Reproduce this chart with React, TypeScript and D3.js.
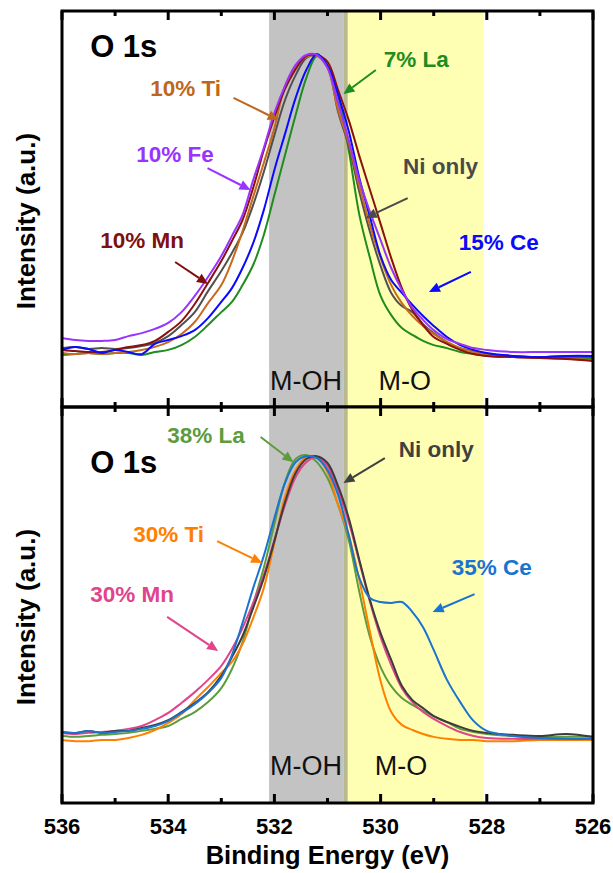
import React from "react";
import * as d3 from "d3";

// ---------- data (binding energy in eV, intensity in a.u., normalised) ----------
const energies = [
  536, 535.75, 535.5, 535.25, 535, 534.75, 534.5, 534.25, 534, 533.75, 533.5, 533.25, 533,
  532.8, 532.6, 532.4, 532.2, 532, 531.8, 531.6, 531.4, 531.2, 531, 530.8, 530.6, 530.4, 530.2,
  530, 529.8, 529.6, 529.4, 529.2, 529, 528.75, 528.5, 528.25, 528, 527.5, 527, 526.5, 526,
];

// top panel
const topFe10 = [6.7, 6.0, 5.7, 5.7, 6.0, 7.3, 8.3, 9.7, 11.7, 15.3, 20.7, 27.0, 34.0, 40.7, 47.7, 59.3, 70.0, 81.7, 90.7, 97.7, 101.0, 101.0, 96.7, 85.0, 72.7, 59.3, 48.7, 39.3, 30.0, 22.7, 16.7, 12.7, 9.3, 6.3, 4.7, 3.3, 2.7, 2.0, 2.0, 2.0, 2.0];
const topMn10 = [2.7, 2.3, 2.0, 2.0, 2.7, 3.7, 4.3, 5.7, 8.7, 12.3, 18.0, 25.0, 32.3, 39.0, 46.0, 56.7, 69.3, 80.3, 89.7, 96.3, 100.7, 101.0, 98.7, 89.3, 79.3, 67.3, 56.0, 44.7, 33.3, 23.3, 16.0, 11.0, 7.0, 4.7, 2.7, 1.3, 0.7, 0.3, 0, -0.3, -1.0];
const topNi = [3.3, 3.7, 3.0, 3.3, 3.0, 3.3, 4.0, 5.0, 7.3, 11.0, 15.3, 22.3, 29.0, 35.0, 41.7, 51.0, 62.0, 74.3, 86.0, 94.3, 100.0, 101.0, 97.3, 82.0, 70.7, 55.3, 42.0, 30.7, 21.7, 17.3, 15.3, 11.3, 8.3, 5.3, 3.3, 2.3, 1.3, 0.7, 0.3, 0.7, 0.3];
const topTi10 = [1.7, 1.3, 1.7, 1.3, 1.7, 2.0, 2.7, 3.7, 5.3, 8.0, 12.0, 18.3, 24.3, 32.3, 42.3, 53.7, 65.0, 76.7, 90.7, 97.3, 100.3, 100.7, 96.7, 82.7, 71.7, 57.3, 44.3, 33.3, 24.3, 18.3, 14.0, 10.7, 8.0, 5.3, 3.3, 2.0, 1.0, 0.3, 0, -0.3, -0.7];
const topCe15 = [2.7, 3.7, 3.0, 1.7, 2.7, 2.0, 1.3, 4.7, 6.0, 7.3, 9.3, 13.3, 18.7, 23.3, 30.0, 38.3, 49.3, 62.7, 74.7, 86.7, 96.0, 101.3, 97.3, 87.7, 75.7, 60.0, 47.0, 34.0, 26.0, 21.7, 17.7, 14.0, 10.7, 7.0, 4.3, 2.7, 1.7, 0.7, 0.3, 0.7, 0.7];
const topLa7 = [1.0, 1.3, 1.7, 1.3, 1.7, 1.7, 1.0, 2.0, 2.7, 4.3, 7.0, 11.0, 15.3, 18.7, 24.3, 31.0, 41.0, 54.3, 67.7, 81.0, 93.3, 100.7, 97.3, 87.7, 69.3, 47.7, 33.3, 20.7, 14.3, 10.0, 7.7, 5.7, 4.3, 3.3, 2.0, 1.3, 0.7, 0.3, 0.3, 0, 0];

// bottom panel
const botLa38 = [1.4, 1.1, 1.4, 1.8, 2.1, 2.5, 3.2, 3.9, 4.9, 7.4, 9.8, 13.3, 18.2, 24.9, 34.4, 47.7, 60.4, 75.8, 90.5, 98.6, 100.0, 97.5, 91.9, 82.5, 70.2, 51.9, 36.1, 25.6, 18.9, 14.7, 12.3, 10.2, 8.4, 6.3, 3.9, 2.8, 2.1, 1.4, 1.1, 1.1, 1.1];
const botTi30 = [0, -0.4, -0.4, 0, 0, 0.7, 1.8, 3.5, 6.0, 9.1, 14.0, 18.6, 23.5, 27.4, 33.7, 42.8, 53.3, 69.1, 85.3, 94.7, 99.3, 99.3, 94.0, 82.5, 71.9, 56.1, 37.9, 20.7, 9.8, 5.3, 3.5, 2.1, 1.1, 0.4, 0, 0, -0.4, -0.4, 0, 0, 0];
const botMn30 = [2.5, 2.1, 2.5, 2.8, 3.2, 3.9, 4.9, 7.0, 9.5, 13.0, 16.8, 21.1, 26.0, 31.9, 39.3, 48.1, 57.9, 70.2, 82.5, 92.3, 97.5, 99.3, 96.1, 87.7, 76.5, 62.5, 48.4, 36.1, 26.3, 18.2, 13.3, 9.8, 7.4, 4.9, 2.8, 1.4, 0.7, 0.4, 0.4, 0.4, 0.4];
const botNi = [2.8, 2.5, 3.2, 2.5, 3.2, 3.2, 4.2, 5.3, 7.0, 9.8, 13.0, 16.8, 22.5, 29.1, 36.5, 46.3, 56.8, 69.8, 83.5, 93.7, 98.6, 99.6, 97.2, 89.1, 77.9, 63.2, 49.1, 37.5, 28.1, 19.0, 14.0, 11.2, 8.4, 6.3, 4.6, 3.2, 2.5, 1.8, 1.4, 2.1, 1.1];
const botCe35 = [2.8, 2.5, 3.2, 2.5, 2.8, 3.2, 3.9, 4.9, 6.7, 9.5, 12.6, 16.5, 21.8, 29.8, 41.1, 53.3, 64.6, 77.9, 90.2, 97.5, 99.6, 98.9, 94.7, 86.0, 71.9, 56.8, 49.8, 48.4, 48.1, 48.4, 44.9, 39.6, 31.6, 21.1, 13.3, 6.7, 3.2, 1.4, 0.7, 0.4, 0.4];

// x axis
const xTicksMajor = [536, 534, 532, 530, 528, 526];
const xTicksMinor = [535, 533, 531, 529, 527];

// shaded regions (eV)
const bandMOH = [532.1, 530.62];
const bandMO = [530.7, 528.06];

// series (drawing order)
const topSeries = [
  { name: "7% La", color: "#1e8c1e", values: topLa7 },
  { name: "Ni only", color: "#505050", values: topNi },
  { name: "10% Ti", color: "#c8691c", values: topTi10 },
  { name: "10% Mn", color: "#8b1010", values: topMn10 },
  { name: "15% Ce", color: "#0a0aff", values: topCe15 },
  { name: "10% Fe", color: "#9933ff", values: topFe10 },
];
const botSeries = [
  { name: "38% La", color: "#5c9c3c", values: botLa38 },
  { name: "30% Ti", color: "#ff8000", values: botTi30 },
  { name: "30% Mn", color: "#e0448a", values: botMn30 },
  { name: "Ni only", color: "#3c3c3c", values: botNi },
  { name: "35% Ce", color: "#1a73d0", values: botCe35 },
];

// annotations: label at (lx, ly), arrow from (ax0, ay0) to (ax1, ay1) — energy/intensity coords
const topNotes = [
  { text: "10% Ti", color: "#c0661c", lx: 534.34, ly: 87.3, ax0: 532.77, ay0: 86.7, ax1: 531.92, ay1: 79.3 },
  { text: "10% Fe", color: "#9933ff", lx: 534.6, ly: 65.3, ax0: 533.26, ay0: 63.3, ax1: 532.45, ay1: 56.0 },
  { text: "10% Mn", color: "#7f1010", lx: 535.28, ly: 36.7, ax0: 533.87, ay0: 32.0, ax1: 533.25, ay1: 24.7 },
  { text: "7% La", color: "#1e8c1e", lx: 529.94, ly: 97.0, ax0: 530.09, ay0: 96.0, ax1: 530.7, ay1: 88.0 },
  { text: "Ni only", color: "#4a4a4a", lx: 529.58, ly: 61.3, ax0: 529.49, ay0: 53.3, ax1: 530.28, ay1: 46.7 },
  { text: "15% Ce", color: "#0a0aff", lx: 528.53, ly: 36.0, ax0: 528.3, ay0: 28.7, ax1: 529.09, ay1: 22.0 },
];
const botNotes = [
  { text: "38% La", color: "#5c9c3c", lx: 534.02, ly: 104.2, ax0: 532.26, ay0: 106.3, ax1: 531.64, ay1: 97.5 },
  { text: "30% Ti", color: "#ff8000", lx: 534.66, ly: 69.5, ax0: 533.08, ay0: 69.8, ax1: 532.23, ay1: 62.1 },
  { text: "30% Mn", color: "#e0448a", lx: 535.47, ly: 48.4, ax0: 534.02, ay0: 43.2, ax1: 533.06, ay1: 31.2 },
  { text: "Ni only", color: "#404040", lx: 529.66, ly: 99.3, ax0: 529.92, ay0: 98.9, ax1: 530.7, ay1: 90.2 },
  { text: "35% Ce", color: "#1a73d0", lx: 528.66, ly: 57.9, ax0: 528.23, ay0: 51.2, ax1: 529.02, ay1: 44.9 },
];

const FONT = "'Liberation Sans', Arial, Helvetica, sans-serif";
const W = 613;
const H = 873;
const LEFT = 62;
const RIGHT = 593;

const x = d3.scaleLinear().domain([536, 526]).range([LEFT, RIGHT]);

type Note = { text: string; color: string; lx: number; ly: number; ax0: number; ay0: number; ax1: number; ay1: number };
type Series = { name: string; color: string; values: number[] };

function Arrow({ x0, y0, x1, y1, color }: { x0: number; y0: number; x1: number; y1: number; color: string }) {
  const dx = x1 - x0;
  const dy = y1 - y0;
  const len = Math.hypot(dx, dy);
  const ux = dx / len;
  const uy = dy / len;
  const hl = 11;
  const hw = 5;
  const bx = x1 - ux * hl;
  const by = y1 - uy * hl;
  const head = `M${x1},${y1}L${bx - uy * hw},${by + ux * hw}L${bx + uy * hw},${by - ux * hw}Z`;
  return (
    <g>
      <line x1={x0} y1={y0} x2={bx} y2={by} stroke={color} strokeWidth={2} />
      <path d={head} fill={color} />
    </g>
  );
}

function Panel({ id, top, bottom, y, series, notes, title }: {
  id: string; top: number; bottom: number; y: d3.ScaleLinear<number, number>; series: Series[]; notes: Note[]; title: { e: number; v: number };
}) {
  const line = d3
    .line<number>()
    .x((_, i) => x(energies[i]))
    .y((d) => y(d))
    .curve(d3.curveCatmullRom.alpha(0.5));
  return (
    <g>
      <defs>
        <clipPath id={id}>
          <rect x={LEFT} y={top} width={RIGHT - LEFT} height={bottom - top} />
        </clipPath>
      </defs>
      {/* bands */}
      <rect x={x(bandMOH[0])} y={top} width={x(bandMOH[1]) - x(bandMOH[0])} height={bottom - top} fill="#c3c3c3" />
      <rect x={x(bandMO[0])} y={top} width={x(bandMO[1]) - x(bandMO[0])} height={bottom - top} fill="#ffffb3" />
      <rect x={x(bandMO[0])} y={top} width={x(bandMOH[1]) - x(bandMO[0])} height={bottom - top} fill="#b9b98f" />
      <g clipPath={`url(#${id})`}>
        {series.map((s) => (
          <path key={s.name} d={line(s.values) || ""} fill="none" stroke={s.color} strokeWidth={2} strokeLinejoin="round" />
        ))}
      </g>
      {/* frame */}
      <rect x={LEFT} y={top} width={RIGHT - LEFT} height={bottom - top} fill="none" stroke="#000" strokeWidth={3} />
      {xTicksMajor.map((t) => (
        <g key={"M" + t}>
          <line x1={x(t)} x2={x(t)} y1={top} y2={top + 9} stroke="#000" strokeWidth={3} />
          <line x1={x(t)} x2={x(t)} y1={bottom} y2={bottom - 9} stroke="#000" strokeWidth={3} />
        </g>
      ))}
      {xTicksMinor.map((t) => (
        <g key={"m" + t}>
          <line x1={x(t)} x2={x(t)} y1={top} y2={top + 5} stroke="#000" strokeWidth={3} />
          <line x1={x(t)} x2={x(t)} y1={bottom} y2={bottom - 5} stroke="#000" strokeWidth={3} />
        </g>
      ))}
      <text x={x(title.e)} y={y(title.v)} fontFamily={FONT} fontSize={31} fontWeight="bold" fill="#000">
        O 1s
      </text>
      {notes.map((n) => (
        <g key={n.text}>
          <text x={x(n.lx)} y={y(n.ly)} fontFamily={FONT} fontSize={22.5} fontWeight="bold" fill={n.color}>
            {n.text}
          </text>
          <Arrow x0={x(n.ax0)} y0={y(n.ay0)} x1={x(n.ax1)} y1={y(n.ay1)} color={n.color} />
        </g>
      ))}
      <text
        transform={`translate(35,${(top + bottom) / 2 + 12}) rotate(-90)`}
        textAnchor="middle"
        fontFamily={FONT}
        fontSize={26}
        fontWeight="bold"
        fill="#000"
      >
        Intensity (a.u.)
      </text>
    </g>
  );
}

export default function App() {
  const yTop = d3.scaleLinear().domain([0, 100]).range([358, 58]);
  const yBot = d3.scaleLinear().domain([0, 100]).range([740, 455]);
  const topFrame = { top: 11, bottom: 407 };
  const botFrame = { top: 407, bottom: 803 };
  return (
    <svg width={W} height={H} style={{ position: "absolute", left: 0, top: 0, background: "#fff" }}>
      <rect x={0} y={0} width={W} height={H} fill="#fff" />
      <Panel id="clipTop" top={topFrame.top} bottom={topFrame.bottom} y={yTop} series={topSeries} notes={topNotes} title={{ e: 535.47, v: 100.3 }} />
      <Panel id="clipBot" top={botFrame.top} bottom={botFrame.bottom} y={yBot} series={botSeries} notes={botNotes} title={{ e: 535.47, v: 93.7 }} />
      {/* region labels */}
      <text x={x(532.1) + 1} y={yTop(-10.7)} fontFamily={FONT} fontSize={27} fill="#111">M-OH</text>
      <text x={x(530.04)} y={yTop(-10.7)} fontFamily={FONT} fontSize={27} fill="#111">M-O</text>
      <text x={x(532.1) + 1} y={yBot(-12.3)} fontFamily={FONT} fontSize={27} fill="#111">M-OH</text>
      <text x={x(530.11)} y={yBot(-12.3)} fontFamily={FONT} fontSize={27} fill="#111">M-O</text>
      {/* x tick labels */}
      {xTicksMajor.map((t) => (
        <text key={t} x={x(t)} y={834} textAnchor="middle" fontFamily={FONT} fontSize={22} fontWeight="bold" fill="#000">
          {t}
        </text>
      ))}
      <text x={(LEFT + RIGHT) / 2} y={864} textAnchor="middle" fontFamily={FONT} fontSize={25.5} fontWeight="bold" fill="#000">
        Binding Energy (eV)
      </text>
    </svg>
  );
}
